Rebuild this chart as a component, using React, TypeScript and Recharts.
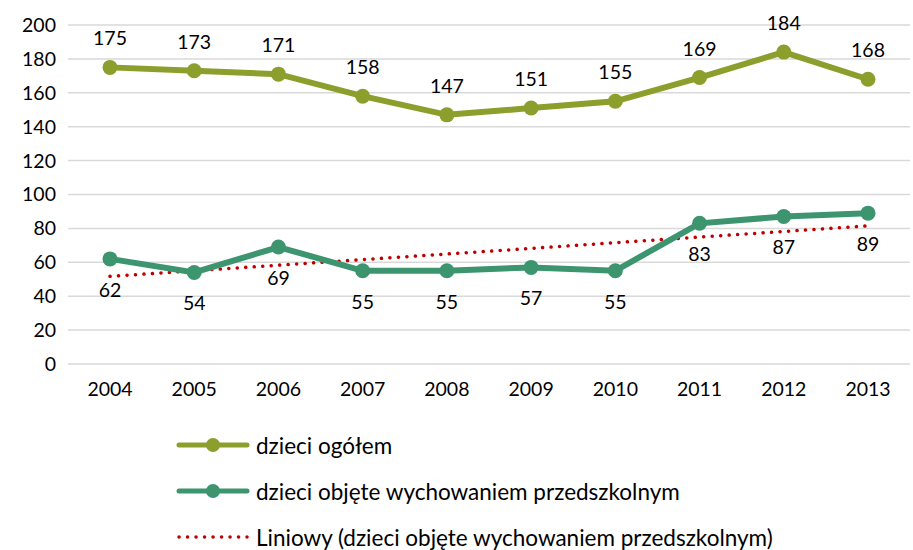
import { LineChart, Line, XAxis, YAxis, CartesianGrid, LabelList } from 'recharts';

const years = ['2004', '2005', '2006', '2007', '2008', '2009', '2010', '2011', '2012', '2013'];
const ogolem = [175, 173, 171, 158, 147, 151, 155, 169, 184, 168];
const przedszkolne = [62, 54, 69, 55, 55, 57, 55, 83, 87, 89];
// trend line (Excel linear trendline)
const trend = [51.7, 55.0, 58.3, 61.6, 64.9, 68.2, 71.6, 74.9, 78.2, 81.5];
const yTicks = [0, 20, 40, 60, 80, 100, 120, 140, 160, 180, 200];

const data = years.map((y, i) => ({
    year: y,
    ogolem: ogolem[i],
    przedszkolne: przedszkolne[i],
    trend: trend[i],
}));

const OLIVE = '#8C9E2C';
const TEAL = '#3D9570';
const RED = '#C00000';
const FONT = 'Lato, "Open Sans", sans-serif';
const FS = 19.5;

const legendItems = [
    { label: 'dzieci ogółem', color: OLIVE, kind: 'line' },
    { label: 'dzieci objęte wychowaniem przedszkolnym', color: TEAL, kind: 'line' },
    { label: 'Liniowy (dzieci objęte wychowaniem przedszkolnym)', color: RED, kind: 'dot' },
];

function LegendBox() {
    return (
        <div style={{ position: 'absolute', top: 422, left: 176, fontFamily: FONT, fontSize: 22.5, color: '#000' }}>
            {legendItems.map((it) => (
                <div key={it.label} style={{ display: 'flex', alignItems: 'center', height: 46 }}>
                    <svg width={76} height={16} style={{ marginRight: 4 }}>
                        {it.kind === 'line' ? (
                            <>
                                <line x1={3} y1={8} x2={71} y2={8} stroke={it.color} strokeWidth={5} strokeLinecap="round" />
                                <circle cx={37} cy={8} r={7} fill={it.color} />
                            </>
                        ) : (
                            <line x1={3} y1={8} x2={71} y2={8} stroke={it.color} strokeWidth={3.5} strokeLinecap="round" strokeDasharray="0.1 8.4" />
                        )}
                    </svg>
                    <span>{it.label}</span>
                </div>
            ))}
        </div>
    );
}

export default function App() {
    return (
        <div style={{ width: 913, height: 550, background: '#fff', position: 'relative' }}>
            <style>{`body{margin:0}`}</style>
            <LineChart width={913} height={550} data={data} margin={{ top: 25, right: 3, left: 0, bottom: 156 }}>
                <CartesianGrid vertical={false} stroke="#D9D9D9" strokeWidth={1.5} />
                <XAxis
                    dataKey="year"
                    axisLine={false}
                    tickLine={false}
                    tickSize={0}
                    tickMargin={18}
                    height={30}
                    interval={0}
                    padding={{ left: 42, right: 42 }}
                    tick={{ fill: '#000', fontSize: FS, fontFamily: FONT }}
                />
                <YAxis
                    domain={[0, 200]}
                    ticks={yTicks}
                    interval={0}
                    width={68}
                    axisLine={false}
                    tickLine={false}
                    tickSize={0}
                    tickMargin={12}
                    tick={{ fill: '#000', fontSize: FS, fontFamily: FONT }}
                />
                <Line
                    dataKey="trend"
                    stroke={RED}
                    strokeWidth={3.5}
                    strokeLinecap="round"
                    strokeDasharray="0.1 8.4"
                    dot={false}
                    activeDot={false}
                    isAnimationActive={false}
                />
                <Line
                    dataKey="ogolem"
                    stroke={OLIVE}
                    strokeWidth={6}
                    dot={{ r: 7.5, fill: OLIVE, stroke: OLIVE, strokeWidth: 0 }}
                    isAnimationActive={false}
                >
                    <LabelList dataKey="ogolem" position="top" offset={22} fill="#000" fontSize={FS} fontFamily={FONT} />
                </Line>
                <Line
                    dataKey="przedszkolne"
                    stroke={TEAL}
                    strokeWidth={6}
                    dot={{ r: 7.5, fill: TEAL, stroke: TEAL, strokeWidth: 0 }}
                    isAnimationActive={false}
                >
                    <LabelList dataKey="przedszkolne" position="bottom" offset={24} fill="#000" fontSize={FS} fontFamily={FONT} />
                </Line>
            </LineChart>
            <LegendBox />
        </div>
    );
}
